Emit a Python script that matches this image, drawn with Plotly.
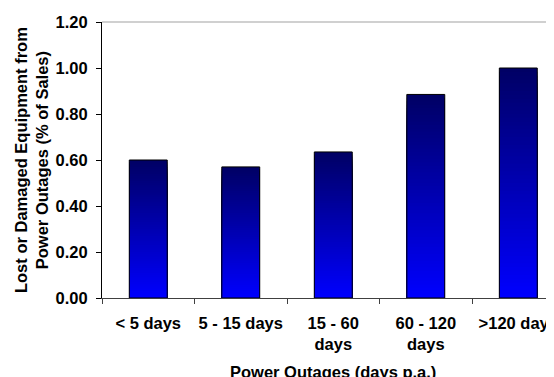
import plotly.graph_objects as go

categories = ["< 5 days", "5 - 15 days", "15 - 60<br>days", "60 - 120<br>days", ">120 days"]
values = [0.60, 0.57, 0.635, 0.885, 1.00]
y_ticks = [0.0, 0.2, 0.4, 0.6, 0.8, 1.0, 1.2]
x_title = "Power Outages (days p.a.)"
y_title = "Lost or Damaged Equipment from<br>Power Outages (% of Sales)"

FONT = "Liberation Sans, Arial, sans-serif"
N = 60
top_rgb = (0, 0, 100)
bot_rgb = (0, 0, 255)

fig = go.Figure()
# Gradient: overlapping bars from full height down to shortest, each brighter
for k in range(N):
    frac = (N - k) / N
    t = (N - k - 0.5) / N  # position of this bar's top band (0 bottom, 1 top)
    r = round(bot_rgb[0] + (top_rgb[0] - bot_rgb[0]) * t)
    g = round(bot_rgb[1] + (top_rgb[1] - bot_rgb[1]) * t)
    b = round(bot_rgb[2] + (top_rgb[2] - bot_rgb[2]) * t)
    fig.add_trace(go.Bar(
        x=categories,
        y=[v * frac for v in values],
        width=0.41,
        marker=dict(color=f"rgb({r},{g},{b})", line=dict(width=0)),
        showlegend=False, hoverinfo="skip",
    ))
fig.add_trace(go.Bar(
    x=categories, y=values, width=0.41,
    marker=dict(color="rgba(0,0,0,0)", line=dict(color="black", width=1)),
    showlegend=False,
))

# The page body has an 8px margin, so the figure is sized to fit the window.
fig.update_layout(
    width=546, height=369,
    margin=dict(l=94, r=0, t=14, b=79),
    paper_bgcolor="white", plot_bgcolor="white",
    barmode="overlay",
    font=dict(family=FONT, size=16.5, color="black", weight="bold"),
    xaxis=dict(
        type="category", range=[-0.5, 4.386], automargin=False, tickangle=0,
        tickson="boundaries", ticks="outside", ticklen=5, tickcolor="#404040",
        ticklabelstandoff=10,
        showline=True, linecolor="#404040", linewidth=1,
        showgrid=False, tickfont=dict(size=16.5, weight="bold"),
    ),
    yaxis=dict(
        range=[0, 1.2], tickvals=y_ticks, tickformat=".2f", automargin=False,
        ticks="outside", ticklen=5, tickcolor="black", ticklabelstandoff=5,
        showline=True, linecolor="black", linewidth=1,
        showgrid=False, zeroline=False, tickfont=dict(size=16.5, weight="bold"),
    ),
    shapes=[dict(type="line", xref="paper", yref="paper", x0=0, x1=1, y0=1, y1=1,
                 line=dict(color="#c0c0c0", width=1.5))],
    annotations=[
        dict(text=x_title, xref="paper", yref="paper", x=0.511, y=-0.268,
             xanchor="center", yanchor="middle", showarrow=False,
             font=dict(size=16.5, weight="bold")),
        dict(text=y_title, xref="paper", yref="paper", x=-0.157, y=0.5,
             xanchor="center", yanchor="middle", showarrow=False, textangle=-90,
             font=dict(size=16.5, weight="bold")),
    ],
)
fig.write_html("out.html")
